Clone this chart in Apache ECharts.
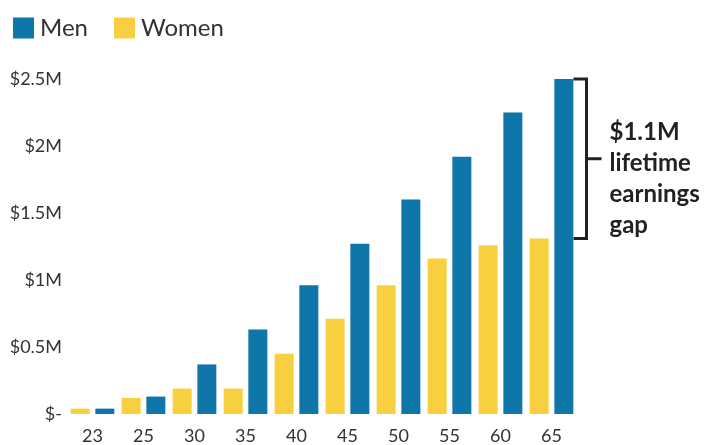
<!DOCTYPE html>
<html>
<head>
    <meta http-equiv="Content-Type" content="text/html; charset=utf-8" />
    <script type="text/javascript" src="https://cdn.jsdelivr.net/npm/echarts@6/dist/echarts.min.js"></script>
</head>
<body style="margin:0;">
    <div id="chartDom" style="position: absolute; width: 707px; height: 445px;"></div>

    <script type="text/javascript">
        // ages and lifetime earnings (in $M)
        var ages = ['23', '25', '30', '35', '40', '45', '50', '55', '60', '65'];
        var men = [0.04, 0.13, 0.37, 0.63, 0.96, 1.27, 1.60, 1.92, 2.25, 2.50];
        var women = [0.04, 0.12, 0.19, 0.19, 0.45, 0.71, 0.96, 1.16, 1.26, 1.31];
        var gapLines = ['$1.1M', 'lifetime', 'earnings', 'gap'];

        var blue = '#0e76a8';
        var yellow = '#f8d03f';
        var font = 'Lato';

        var myChart = echarts.init(document.getElementById("chartDom"));

        var option = {
            animation: false,
            textStyle: { fontFamily: font },
            legend: {
                data: ['Men', 'Women'],
                left: 8,
                top: 11,
                itemWidth: 21,
                itemHeight: 21,
                itemGap: 26,
                icon: 'rect',
                textStyle: { fontSize: 24, color: '#333', fontFamily: font, padding: [0, 0, 0, 1] }
            },
            grid: { left: 67, right: 130, top: 79, bottom: 30 },
            xAxis: {
                type: 'category',
                data: ages,
                axisLine: { show: false },
                axisTick: { show: false },
                axisLabel: { fontSize: 18, color: '#333', margin: 13 }
            },
            yAxis: {
                type: 'value',
                min: 0,
                max: 2.5,
                interval: 0.5,
                splitLine: { show: false },
                axisLine: { show: false },
                axisTick: { show: false },
                axisLabel: {
                    fontSize: 18,
                    color: '#333',
                    margin: 5,
                    formatter: function (v) {
                        return v === 0 ? '$-' : '$' + v + 'M';
                    }
                }
            },
            series: [
                {
                    name: 'Women',
                    type: 'bar',
                    data: women,
                    barWidth: 19,
                    barGap: '30%',
                    itemStyle: { color: yellow }
                },
                {
                    name: 'Men',
                    type: 'bar',
                    data: men,
                    barWidth: 19,
                    barGap: '30%',
                    itemStyle: { color: blue }
                }
            ]
        };
        myChart.setOption(option);

        // bracket showing the gap at the last age
        var last = ages.length - 1;
        var pTop = myChart.convertToPixel({ gridIndex: 0 }, [last, men[last]]);
        var pBot = myChart.convertToPixel({ gridIndex: 0 }, [last, women[last]]);
        var bx = pTop[0] + 35;
        var x0 = pTop[0] + 22;
        var midY = (pTop[1] + pBot[1]) / 2;
        var lineStyle = { stroke: '#222', lineWidth: 3 };
        myChart.setOption({
            graphic: [
                { type: 'polyline', shape: { points: [[x0, pTop[1]], [bx, pTop[1]], [bx, pBot[1]], [x0, pBot[1]]] }, style: lineStyle },
                { type: 'line', shape: { x1: bx, y1: midY, x2: bx + 15, y2: midY }, style: lineStyle },
                {
                    type: 'text',
                    left: bx + 23,
                    top: midY - 42,
                    style: {
                        text: gapLines.join('\n'),
                        font: 'bold 24px Lato',
                        lineHeight: 31,
                        fill: '#222'
                    }
                }
            ]
        });

        window.onresize = myChart.resize;
    </script>
</body>
</html>
